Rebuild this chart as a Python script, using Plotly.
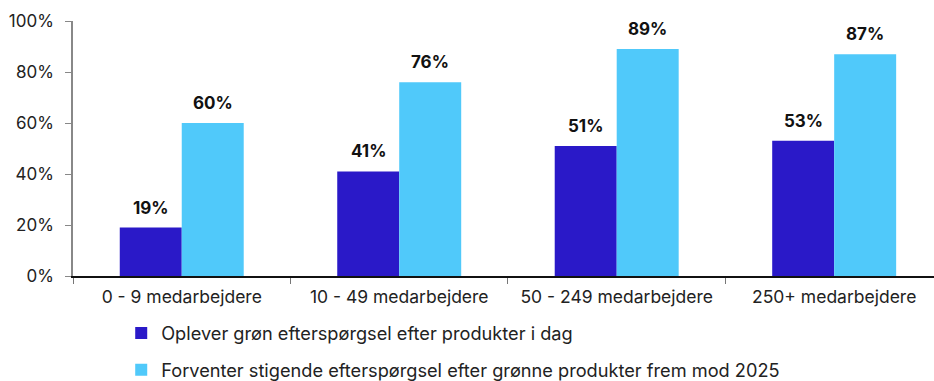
import plotly.graph_objects as go

# Company size groups (number of employees)
categories = ["0 - 9 medarbejdere", "10 - 49 medarbejdere", "50 - 249 medarbejdere", "250+ medarbejdere"]

series_names = [
    "Oplever grøn efterspørgsel efter produkter i dag",
    "Forventer stigende efterspørgsel efter grønne produkter frem mod 2025",
]
today_share = [0.19, 0.41, 0.51, 0.53]
expected_share = [0.60, 0.76, 0.89, 0.87]

y_ticks = [0, 0.2, 0.4, 0.6, 0.8, 1.0]
y_tick_labels = ["0%", "20%", "40%", "60%", "80%", "100%"]

colors = ["#2A19C8", "#50C9FA"]
font_family = "Inter, 'Liberation Sans', Arial, sans-serif"

fig = go.Figure()
for i, (name, vals) in enumerate(zip(series_names, [today_share, expected_share])):
    fig.add_trace(go.Bar(
        x=categories, y=vals, name=name,
        marker=dict(color=colors[i], line=dict(width=0)),
        legendgroup=f"g{i}",
    ))

# Bold percentage labels above each bar
bar_px = 62
for i, vals in enumerate([today_share, expected_share]):
    shift = -bar_px / 2 if i == 0 else bar_px / 2
    for cat, v in zip(categories, vals):
        fig.add_annotation(
            x=cat, y=v, xref="x", yref="y",
            text=f"<b>{round(v * 100)}%</b>",
            showarrow=False, xshift=shift, yshift=8,
            yanchor="bottom", xanchor="center",
            font=dict(family=font_family, size=17, color="#111111"),
        )

fig.update_layout(
    width=934, height=381,
    margin=dict(l=73, r=0, t=21, b=105, autoexpand=False),
    paper_bgcolor="white", plot_bgcolor="white",
    barmode="group", bargap=0.43, bargroupgap=0,
    font=dict(family=font_family, size=17.5, color="#222222"),
    showlegend=True,
    legend=dict(
        orientation="v", x=0.056, y=-0.152, xanchor="left", yanchor="top",
        font=dict(family=font_family, size=18.2, color="#222222"),
        tracegroupgap=10, itemwidth=30, bgcolor="rgba(0,0,0,0)",
    ),
    xaxis=dict(
        type="category", range=[-0.5, 3.459],
        showline=True, linecolor="#111111", linewidth=1.5,
        ticks="outside", tickson="boundaries", ticklen=6, tickcolor="#777777",
        ticklabelstandoff=4,
        tickfont=dict(family=font_family, size=17.5, color="#222222"),
        showgrid=False, zeroline=False,
    ),
    yaxis=dict(
        range=[0, 1.0], tickvals=y_ticks, ticktext=y_tick_labels,
        showline=True, linecolor="#888888", linewidth=1.5,
        ticks="outside", ticklen=6, tickcolor="#888888",
        ticklabelstandoff=8,
        tickfont=dict(family=font_family, size=17, color="#222222"),
        showgrid=False, zeroline=False,
    ),
)

fig.write_html("out.html")
